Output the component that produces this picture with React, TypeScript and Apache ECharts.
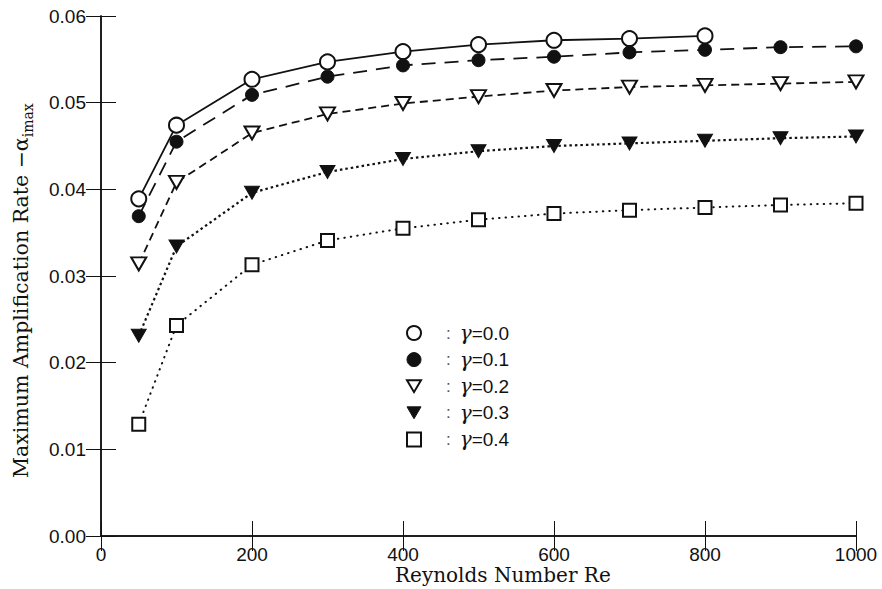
import React, { useEffect, useRef } from "react";
import * as echarts from "echarts";

const reynolds = [50, 100, 200, 300, 400, 500, 600, 700, 800, 900, 1000];
const gamma00 = [0.0389, 0.0474, 0.0527, 0.0547, 0.0559, 0.0567, 0.0572, 0.0574, 0.0577];
const gamma01 = [0.0369, 0.0455, 0.0509, 0.053, 0.0543, 0.0549, 0.0553, 0.0558, 0.0561, 0.0564, 0.0565];
const gamma02 = [0.0314, 0.0408, 0.0465, 0.0487, 0.0499, 0.0507, 0.0514, 0.0518, 0.052, 0.0522, 0.0524];
const gamma03 = [0.0231, 0.0334, 0.0396, 0.042, 0.0435, 0.0444, 0.045, 0.0453, 0.0456, 0.0459, 0.0461];
const gamma04 = [0.0129, 0.0243, 0.0313, 0.0341, 0.0355, 0.0365, 0.0372, 0.0376, 0.0379, 0.0382, 0.0384];
const seriesNames = ["γ=0.0", "γ=0.1", "γ=0.2", "γ=0.3", "γ=0.4"];
const xTicks = [0, 200, 400, 600, 800, 1000];
const yTicks = ["0.00", "0.01", "0.02", "0.03", "0.04", "0.05", "0.06"];

const INK = "#111";
const TRI_DOWN = "path://M0,0L20,0L10,17Z";

const pairs = (ys: number[]) => ys.map((y, i) => [reynolds[i], y]);

export default function App() {
  const ref = useRef<HTMLDivElement>(null);
  useEffect(() => {
    if (!ref.current) return;
    const chart = echarts.init(ref.current, null, { renderer: "svg" });
    const open = { color: "#fff", borderColor: INK, borderWidth: 2 };
    const filled = { color: INK, borderColor: INK, borderWidth: 1 };
    const styles = [
      { symbol: "circle", size: 15, item: open, line: { type: "solid" as any, width: 1.8, cap: "butt" } },
      { symbol: "circle", size: 13, item: filled, line: { type: [14, 9] as any, width: 1.8, cap: "butt" } },
      { symbol: TRI_DOWN, size: [15, 13], item: open, line: { type: [8, 5] as any, width: 1.8, cap: "butt" } },
      { symbol: TRI_DOWN, size: [15, 13], item: filled, line: { type: [2.5, 3] as any, width: 2.2, cap: "butt" } },
      { symbol: "rect", size: 13, item: open, line: { type: [0.5, 6] as any, width: 2, cap: "round" } },
    ];
    const data = [gamma00, gamma01, gamma02, gamma03, gamma04];
    const axisCommon = {
      axisLine: { show: true, lineStyle: { color: INK, width: 1.5 } },
      axisTick: { show: true, inside: true, length: 15, lineStyle: { color: INK, width: 1 } },
      splitLine: { show: false },
    };
    chart.setOption({
      animation: false,
      backgroundColor: "#fff",
      grid: { left: 101, right: 26, top: 16, bottom: 53 },
      xAxis: [
        {
          type: "value",
          min: 0,
          max: 1000,
          interval: 200,
          position: "bottom",
          ...axisCommon,
          axisLabel: {
            margin: 11,
            color: INK,
            fontSize: 19,
            lineHeight: 15,
            fontFamily: "Liberation Sans",
            formatter: (v: number) => (xTicks.includes(v) ? String(v) : ""),
          },
        },
        {
          type: "value",
          min: 0,
          max: 1000,
          interval: 200,
          position: "top",
          ...axisCommon,
          axisLabel: { show: false },
        },
      ],
      yAxis: [
        {
          type: "value",
          min: 0,
          max: 0.06,
          interval: 0.01,
          position: "left",
          ...axisCommon,
          axisLabel: {
            margin: 15,
            color: INK,
            fontSize: 19,
            fontFamily: "Liberation Sans",
            formatter: (v: number) => yTicks[Math.round(v * 100)] ?? "",
          },
        },
        {
          type: "value",
          min: 0,
          max: 0.06,
          interval: 0.01,
          position: "right",
          ...axisCommon,
          axisLabel: { show: false },
        },
      ],
      legend: {
        orient: "vertical",
        left: 406,
        top: 323,
        itemWidth: 14,
        itemHeight: 14,
        itemGap: 6.6,
        padding: 0,
        selectedMode: false,
        data: seriesNames.map((n, i) => ({
          name: n,
          icon: styles[i].symbol,
          itemStyle: styles[i].item,
        })),
        formatter: (name: string) => `{c|:}{g|γ}{v|${name.slice(1)}}`,
        textStyle: {
          color: INK,
          fontSize: 19,
          lineHeight: 14,
          fontFamily: "Liberation Sans",
          rich: {
            c: { fontSize: 17, lineHeight: 14, color: "#555", fontFamily: "Liberation Sans", padding: [0, 9, 0, 20] },
            g: { fontSize: 20, lineHeight: 14, color: INK, fontFamily: "DejaVu Serif", fontStyle: "italic" },
            v: { fontSize: 19, lineHeight: 14, color: INK, fontFamily: "Liberation Sans" },
          },
        },
      },
      graphic: [
        {
          type: "text",
          left: 395,
          top: 565,
          style: {
            text: "Reynolds Number Re",
            fill: INK,
            font: "20px 'DejaVu Serif'",
          },
        },
        {
          type: "text",
          x: 21,
          y: 478,
          rotation: Math.PI / 2,
          style: {
            text: "{a|Maximum Amplification Rate −α}{b|imax}",
            align: "left",
            verticalAlign: "middle",
            rich: {
              a: { fontSize: 20.5, fontFamily: "DejaVu Serif", fill: INK, lineHeight: 20 },
              b: { fontSize: 14, fontFamily: "DejaVu Serif", fill: INK, lineHeight: 20, padding: [13, 0, 0, 0] },
            },
          },
        },
      ],
      series: data.map((ys, i) => ({
        name: seriesNames[i],
        type: "line",
        xAxisIndex: 0,
        yAxisIndex: 0,
        data: pairs(ys),
        symbol: styles[i].symbol,
        symbolSize: styles[i].size,
        showAllSymbol: true,
        itemStyle: styles[i].item,
        lineStyle: { color: INK, ...styles[i].line },
        z: 2 + i,
      })),
    });
    return () => chart.dispose();
  }, []);
  return <div ref={ref} style={{ width: 882, height: 589, position: "absolute", left: 0, top: 0 }} />;
}
